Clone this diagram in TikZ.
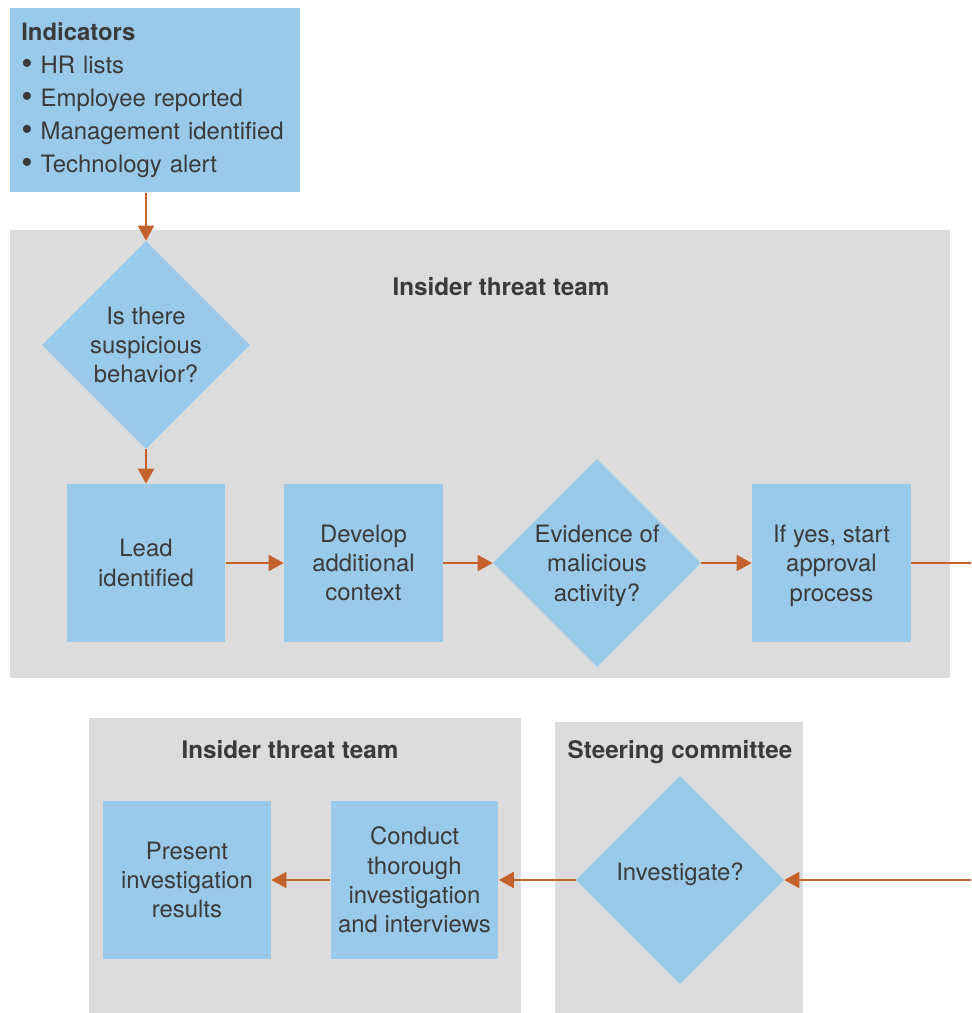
\documentclass[tikz,border=0pt]{standalone}
\usepackage{fontspec}
\setmainfont{TeX Gyre Heros}
\usetikzlibrary{shapes.geometric,arrows.meta,positioning}
\definecolor{boxblue}{RGB}{153,202,234}
\definecolor{panelgray}{RGB}{220,220,220}
\definecolor{arroworange}{RGB}{197,97,44}
\definecolor{textgray}{RGB}{58,58,58}
\newcommand{\listdot}{\raisebox{-0.4pt}{\scalebox{1.35}{•}}}

\begin{document}
\begin{tikzpicture}[x=0.02cm,y=-0.02cm,
  every node/.style={text=textgray,font=\fontsize{13.6}{16.7}\selectfont},
  stepbox/.style={fill=boxblue,minimum width=3.18cm,minimum height=3.16cm,align=center,inner sep=0pt},
  widebox/.style={stepbox,minimum width=3.36cm},
  decision/.style={diamond,fill=boxblue,minimum width=4.16cm,minimum height=4.16cm,aspect=1,align=center,inner sep=0pt},
  paneltitle/.style={anchor=base,font=\fontsize{13.8}{16.7}\selectfont\bfseries},
  flow/.style={draw=arroworange,line width=1.1pt,-{Triangle[length=0.3cm,width=0.32cm]}},
  link/.style={draw=arroworange,line width=1.1pt}]
  \useasboundingbox (0,0) rectangle (971,1013);
  \fill[panelgray] (10,230) rectangle (950,678);
  \fill[panelgray] (89,718) rectangle (521,1013);
  \fill[panelgray] (555,722) rectangle (803,1013);

  \node[fill=boxblue,anchor=north west,minimum width=5.8cm,minimum height=3.68cm,
    text width=5.36cm,align=left,inner sep=0pt,font=\fontsize{13.6}{18.7}\selectfont]
    (indicators) at (10,8)
    {\textbf{Indicators}\\\listdot\ HR lists\\\listdot\ Employee reported\\\listdot\ Management identified\\\listdot\ Technology alert};

  \node[paneltitle] (teamtop) at (501,295.5) {Insider threat team};
  \node[paneltitle] (teambottom) at (290,758.5) {Insider threat team};
  \node[paneltitle] (steering) at (680,758.5) {Steering committee};

  \node[decision] (suspicious) at (146,345) {Is there\\suspicious\\behavior?};
  \node[stepbox] (lead) at (146,563) {Lead\\identified};
  \node[stepbox] (develop) at (363.5,563) {Develop\\additional\\context};
  \node[decision,text depth=0pt] (evidence) at (597,563) {Evidence of\\malicious\\activity?};
  \node[stepbox,text depth=0pt] (approval) at (831.5,563) {If yes, start\\approval\\process};
  \coordinate (exitright) at (971,563);

  \node[decision,text depth=9pt] (investigate) at (680,880) {Investigate?};
  \node[widebox] (conduct) at (414.5,880) {Conduct\\thorough\\investigation\\and interviews};
  \node[widebox] (present) at (187,880) {Present\\investigation\\results};
  \coordinate (entryright) at (971,880);

  \draw[flow] (suspicious.north |- indicators.south) -- (suspicious.north);
  \draw[flow] (suspicious.south) -- (lead.north);
  \draw[flow] (lead) -- (develop);
  \draw[flow] (develop) -- (evidence);
  \draw[flow] (evidence) -- (approval);
  \draw[link] (approval) -- (exitright);
  \draw[flow] (entryright) -- (investigate);
  \draw[flow] (investigate) -- (conduct);
  \draw[flow] (conduct) -- (present);
\end{tikzpicture}
\end{document}
